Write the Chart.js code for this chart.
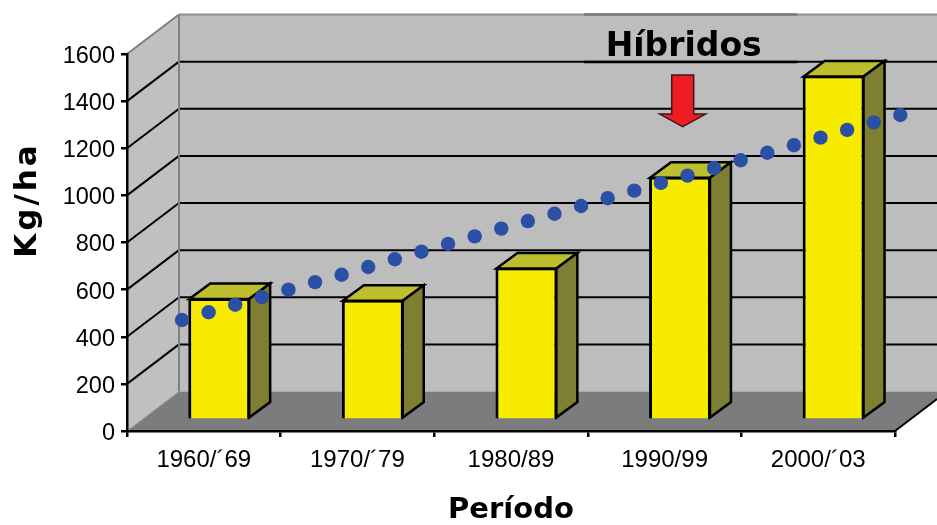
<!DOCTYPE html>
<html>
<head>
<meta charset="utf-8">
<style>html,body{margin:0;padding:0;background:#fff}canvas{display:block}</style>
<script src="https://cdn.jsdelivr.net/npm/chart.js@4/dist/chart.umd.min.js"></script>
</head>
<body>
<canvas id="c" width="937" height="525"></canvas>
<script>
const categories = ["1960/´69", "1970/´79", "1980/89", "1990/99", "2000/´03"];
const barValues = [517, 510, 646, 1032, 1461];
const pointIndex = [1,2,3,4,5,6,7,8,9,10,11,12,13,14,15,16,17,18,19,20,21,22,23,24,25,26,27,28];
const pointValues = [471,504,536,569,600,632,663,696,729,761,794,826,859,891,922,955,988,1020,1053,1084,1116,1149,1181,1213,1245,1278,1310,1341];
const yTicks = [0,200,400,600,800,1000,1200,1400,1600];
const yTitle = "Kg/ha";
const xTitle = "Período";
const noteText = "Híbridos";
const noteAnchor = {x: 19.82, y: 1292};

const WALL = {dx: 52, dy: -39.5};
const BAR_SHIFT = {dx: 15.4, dy: -11.2};
const BAR_DEPTH = {dx: 21, dy: -15.5};

function poly(ctx, pts, fill, stroke, lw) {
  ctx.beginPath();
  pts.forEach((p, i) => i ? ctx.lineTo(p[0], p[1]) : ctx.moveTo(p[0], p[1]));
  ctx.closePath();
  if (fill) { ctx.fillStyle = fill; ctx.fill(); }
  if (stroke) { ctx.strokeStyle = stroke; ctx.lineWidth = lw; ctx.lineJoin = "miter"; ctx.stroke(); }
}
function seg(ctx, x1, y1, x2, y2, color, lw) {
  ctx.beginPath(); ctx.moveTo(x1, y1); ctx.lineTo(x2, y2);
  ctx.strokeStyle = color; ctx.lineWidth = lw; ctx.stroke();
}

const scene = {
  id: "scene",
  beforeDraw(chart) {
    const {ctx, chartArea: a, scales: {y}} = chart;
    const W = chart.width;
    const bx = a.left + WALL.dx, by0 = a.bottom + WALL.dy, byT = a.top + WALL.dy;
    ctx.save();
    poly(ctx, [[a.left, a.top], [bx, byT], [bx, by0], [a.left, a.bottom]], "#c0c0c0");
    ctx.fillStyle = "#bdbdbd";
    ctx.fillRect(bx, byT, W - bx, by0 - byT);
    const rx = W - a.right;
    poly(ctx, [[a.left, a.bottom], [bx, by0], [W, by0], [W, a.bottom + WALL.dy * rx / WALL.dx], [a.right, a.bottom]], "#7c7c7c");
    yTicks.forEach(v => {
      if (v === 0 || v === 1600) return;
      const p = y.getPixelForValue(v);
      seg(ctx, a.left, p, bx, p + WALL.dy, "#000", 2);
      seg(ctx, bx, p + WALL.dy, W, p + WALL.dy, "#000", 2);
    });
    seg(ctx, bx, byT, W, byT, "#8c8c8c", 2);
    seg(ctx, a.left, a.top, bx, byT, "#808080", 2);
    seg(ctx, bx, byT, bx, by0, "#808080", 2);
    seg(ctx, a.left, a.bottom, bx, by0, "#9a9a9a", 1);
    seg(ctx, a.right, a.bottom, W, a.bottom + WALL.dy * rx / WALL.dx, "#000", 2);
    ctx.restore();
  },
  beforeDatasetDraw(chart, args) {
    if (args.index !== 1) return;
    chart.ctx.save();
    chart.ctx.translate(BAR_SHIFT.dx, BAR_SHIFT.dy);
  },
  afterDatasetDraw(chart, args) {
    if (args.index !== 1) return;
    const ctx = chart.ctx;
    args.meta.data.forEach(b => {
      const l = b.x - b.width / 2 + 1, r = b.x + b.width / 2 - 1, t = b.y + 1, base = b.base - 1;
      const d = BAR_DEPTH;
      poly(ctx, [[l, t], [l + d.dx, t + d.dy], [r + d.dx, t + d.dy], [r, t]], "#bdbf2d", "#000", 2.5);
      poly(ctx, [[r, t], [r + d.dx, t + d.dy], [r + d.dx, base + d.dy], [r, base]], "#7f7f33", "#000", 2.5);
    });
    ctx.restore();
  },
  afterDatasetsDraw(chart) {
    const {ctx, scales: {xPts, y}} = chart;
    const cx = xPts.getPixelForValue(noteAnchor.x), tip = y.getPixelForValue(noteAnchor.y);
    ctx.save();
    poly(ctx, [[cx - 11, tip - 51.5], [cx + 11, tip - 51.5], [cx + 11, tip - 12.5], [cx + 23, tip - 12.5],
               [cx, tip], [cx - 23, tip - 12.5], [cx - 11, tip - 12.5]], "#ee1c25", "#3a1a1a", 1.5);
    ctx.fillStyle = "#000";
    ctx.font = "bold 33px 'DejaVu Sans'";
    ctx.textAlign = "center";
    ctx.textBaseline = "alphabetic";
    ctx.fillText(noteText, cx + 1, tip - 70.5);
    seg(ctx, cx - 98.5, tip - 64.5, cx + 114.5, tip - 64.5, "#000", 2.5);
    seg(ctx, cx - 98.5, tip - 112, cx + 114.5, tip - 112, "#7a7a7a", 2.5);
    ctx.translate(28, 200);
    ctx.rotate(-Math.PI / 2);
    ctx.font = "bold 31px 'DejaVu Sans'";
    ctx.textBaseline = "middle";
    ctx.letterSpacing = "3px";
    ctx.fillText(yTitle, 0, 0);
    ctx.restore();
  }
};

new Chart(document.getElementById("c"), {
  type: "bar",
  data: {
    labels: categories,
    datasets: [
      {
        type: "line",
        data: pointIndex.map((x, i) => ({x, y: pointValues[i]})),
        xAxisID: "xPts", yAxisID: "y",
        showLine: false, pointRadius: 7.2, pointBorderWidth: 0,
        pointBackgroundColor: "#2a4fa4", clip: false, order: 1
      },
      {
        type: "bar",
        data: barValues,
        xAxisID: "x", yAxisID: "y",
        backgroundColor: "#f7ec00", borderColor: "#000", borderWidth: 3,
        grouped: false,
        barPercentage: 0.403, categoryPercentage: 1, clip: false, order: 2
      }
    ]
  },
  options: {
    responsive: false,
    animation: false,
    layout: {padding: {left: 0, top: 54, right: 42, bottom: 0}},
    plugins: {legend: {display: false}, tooltip: {enabled: false}},
    scales: {
      x: {
        type: "category",
        offset: true,
        afterFit(s) { s.height = 94; },
        grid: {drawOnChartArea: false, drawTicks: true, tickLength: 6, color: "#000", lineWidth: 2.5, offset: true},
        border: {color: "#000", width: 2.5},
        ticks: {color: "#000", padding: 9, maxRotation: 0, autoSkip: false, font: {family: "'Liberation Sans'", size: 24}},
        title: {display: true, text: xTitle, color: "#000", padding: {top: 0, bottom: 0},
                font: {family: "'DejaVu Sans'", weight: "bold", size: 29, lineHeight: 1}}
      },
      xPts: {type: "linear", display: false, offset: false, grid: {offset: false}, min: -1.068, max: 27.8},
      y: {
        min: 0, max: 1600,
        afterFit(s) { s.width = 127; },
        afterBuildTicks(s) { s.ticks = yTicks.map(value => ({value})); },
        grid: {drawOnChartArea: false, drawTicks: true, tickLength: 6, color: "#000", lineWidth: 2.5},
        border: {color: "#000", width: 2.5},
        ticks: {color: "#000", padding: 6, labelOffset: 2.5, callback: v => String(v), font: {family: "'Liberation Sans'", size: 23.5}}
      }
    }
  },
  plugins: [scene]
});
</script>
</body>
</html>
